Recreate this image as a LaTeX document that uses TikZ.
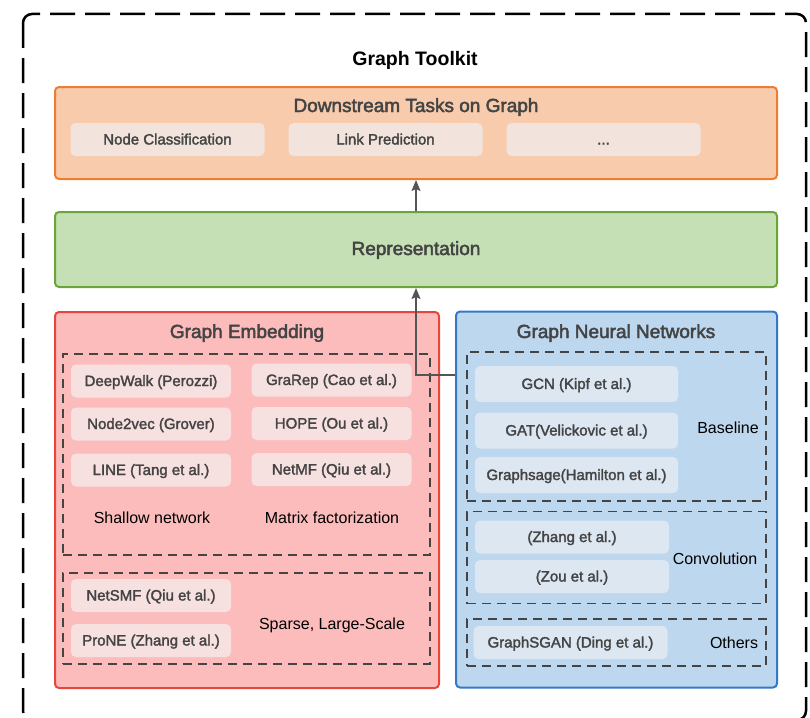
\documentclass[tikz,border=0pt]{standalone}
\usepackage{fontspec}
\setmainfont{Liberation Sans}
\newfontfamily\medfont{Liberation Sans}[FakeBold=2.5]
\newfontfamily\itmface{Liberation Sans}[FakeBold=2]
\usetikzlibrary{arrows.meta}

\definecolor{orangefill}{HTML}{F7CBAC}
\definecolor{orangeline}{HTML}{ED7D31}
\definecolor{orangeitem}{HTML}{F2E4DC}
\definecolor{greenfill}{HTML}{C5E0B4}
\definecolor{greenline}{HTML}{6BA539}
\definecolor{redfill}{HTML}{FCBCBC}
\definecolor{redline}{HTML}{E5463E}
\definecolor{reditem}{HTML}{F6E0E0}
\definecolor{bluefill}{HTML}{BDD7EE}
\definecolor{blueline}{HTML}{3479C8}
\definecolor{blueitem}{HTML}{DDE7F1}
\definecolor{txtgrey}{HTML}{444444}
\definecolor{arrowgrey}{HTML}{555555}

\newcommand{\hdfont}{\bfseries\fontsize{19.5}{23}\selectfont}
\newcommand{\ttlfont}{\medfont\fontsize{19}{23}\selectfont}
\newcommand{\itmfont}{\itmface\fontsize{15}{18}\selectfont}
\newcommand{\lblfont}{\fontsize{16}{19}\selectfont}

\tikzset{
  txt/.style={text height=1em, text depth=0pt, inner sep=0pt},
  panel/.style={draw, rounded corners=4pt, line width=2pt, inner sep=0pt},
  item/.style={txt, rounded corners=5pt, minimum height=33pt, font=\itmfont, text=txtgrey},
  group/.style={draw=txtgrey, line width=1.5pt, dash pattern=on 9pt off 6pt, inner sep=0pt},
  title/.style={txt, font=\ttlfont, text=txtgrey},
  tag/.style={txt, font=\lblfont, text=black},
  flow/.style={draw=arrowgrey, line width=1.5pt, -{Stealth[length=11pt, width=9pt, inset=2pt]}},
}

\begin{document}
\begin{tikzpicture}[x=1pt, y=-1pt]
\useasboundingbox (0,0) rectangle (810,717);
\clip (0,0) rectangle (810,717);

% outer frame
\draw[line width=2.5pt, dash pattern=on 25pt off 10pt, rounded corners=9pt] (23,14) rectangle (806,720);
\node[txt, font=\hdfont] (toolkit) at (415,61) {Graph Toolkit};

% downstream tasks
\node[panel, draw=orangeline, fill=orangefill, minimum width=722pt, minimum height=92pt] (tasks) at (416,133) {};
\node[title] (taskttl) at (416,107) {Downstream Tasks on Graph};
\node[item, fill=orangeitem, minimum width=194pt] (nodecls) at (167.5,139.5) {Node Classification};
\node[item, fill=orangeitem, minimum width=194pt] (linkpred) at (385.5,139.5) {Link Prediction};
\node[item, fill=orangeitem, minimum width=194pt] (moretask) at (603.5,139.5) {...};

% representation
\node[panel, draw=greenline, fill=greenfill, minimum width=722pt, minimum height=75pt] (repr) at (416,249.5) {};
\node[title] (reprttl) at (416,250) {Representation};

% graph embedding
\node[panel, draw=redline, fill=redfill, minimum width=384pt, minimum height=376pt] (emb) at (247,500) {};
\node[title] (embttl) at (247,333) {Graph Embedding};
\node[group, minimum width=367pt, minimum height=201pt] (embgrp) at (246.5,454.5) {};
\node[group, minimum width=367pt, minimum height=91pt] (sparsegrp) at (246.5,618.5) {};

\node[item, fill=reditem, minimum width=160pt] (deepwalk) at (151,381) {DeepWalk (Perozzi)};
\node[item, fill=reditem, minimum width=160pt] (node2vec) at (151,424) {Node2vec (Grover)};
\node[item, fill=reditem, minimum width=160pt] (line) at (151,470) {LINE (Tang et al.)};
\node[item, fill=reditem, minimum width=160pt] (grarep) at (331.5,380) {GraRep (Cao et al.)};
\node[item, fill=reditem, minimum width=160pt] (hope) at (331.5,423.5) {HOPE (Ou et al.)};
\node[item, fill=reditem, minimum width=160pt] (netmf) at (331.5,469.5) {NetMF (Qiu et al.)};
\node[tag] (shallow) at (152,518) {Shallow network};
\node[tag] (matrix) at (332,518) {Matrix factorization};

\node[item, fill=reditem, minimum width=160pt] (netsmf) at (151,595.5) {NetSMF (Qiu et al.)};
\node[item, fill=reditem, minimum width=160pt] (prone) at (151,640.5) {ProNE (Zhang et al.)};
\node[tag] (sparse) at (332,624.5) {Sparse, Large-Scale};

% graph neural networks
\node[panel, draw=blueline, fill=bluefill, minimum width=321pt, minimum height=376pt] (gnn) at (616.5,499.5) {};
\node[title] (gnnttl) at (616,333) {Graph Neural Networks};
\node[group, minimum width=299pt, minimum height=149pt] (basegrp) at (616.5,426.5) {};
\node[group, minimum width=299pt, minimum height=92pt] (convgrp) at (616.5,557.5) {};
\node[group, minimum width=299pt, minimum height=47pt] (othergrp) at (616.5,642.5) {};

\node[item, fill=blueitem, minimum width=203pt, minimum height=36pt] (gcn) at (576.5,384) {GCN (Kipf et al.)};
\node[item, fill=blueitem, minimum width=203pt, minimum height=36pt] (gat) at (576.5,430.5) {GAT(Velickovic et al.)};
\node[item, fill=blueitem, minimum width=203pt, minimum height=36pt] (sage) at (576.5,475) {Graphsage(Hamilton et al.)};
\node[tag] (baseline) at (728,428) {Baseline};

\node[item, fill=blueitem, minimum width=194pt] (zhang) at (572,537) {(Zhang et al.)};
\node[item, fill=blueitem, minimum width=194pt] (zou) at (572,576.5) {(Zou et al.)};
\node[tag] (conv) at (715,559.5) {Convolution};

\node[item, fill=blueitem, minimum width=194pt] (sgan) at (570.5,642.5) {GraphSGAN (Ding et al.)};
\node[tag] (others) at (734,643.5) {Others};

% arrows
\coordinate (bend) at (416,375);
\draw[flow] (gnn.west |- bend) -- (bend) -- (repr.south);
\draw[flow] (repr.north) -- (tasks.south);
\end{tikzpicture}
\end{document}
